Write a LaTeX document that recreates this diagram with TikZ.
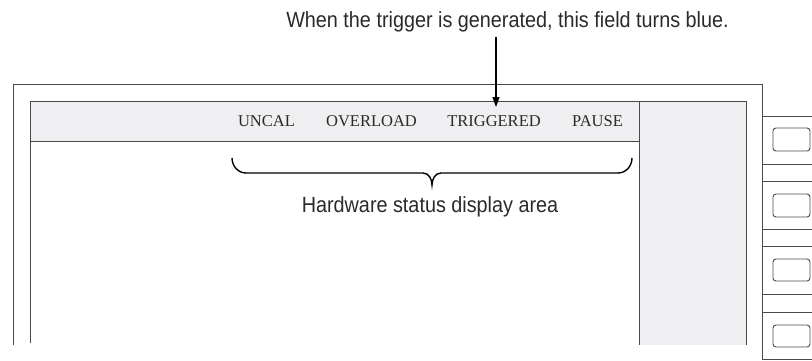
\documentclass[tikz,border=0pt]{standalone}
\usepackage{fontspec}
\usetikzlibrary{arrows.meta}
\newfontfamily\labfont[FakeStretch=0.9]{Liberation Sans}
\newfontfamily\hdrfont{Liberation Serif}
\definecolor{lin}{HTML}{4A4A4A}
\definecolor{panel}{HTML}{EFEFF1}
\definecolor{txt}{HTML}{2A2A2A}
\begin{document}
\begin{tikzpicture}[x=1pt,y=-1pt,
  frame/.style={draw=lin,line width=1pt},
  callout/.style={inner sep=0pt,anchor=base,text=txt,font=\labfont\fontsize{22}{26}\selectfont},
  field/.style={inner sep=0pt,anchor=base,text=txt,font=\hdrfont\fontsize{16.5}{20}\selectfont},
  softkey/.style={draw=lin,line width=0.9pt,rounded corners=3pt}]
\useasboundingbox (0,0) rectangle (812,360);
% panels
\fill[panel] (30,101) rectangle (639,141);
\fill[panel] (639,101) rectangle (746,345);
% outer frame
\draw[frame] (13,345) -- (13,84) -- (762,84) -- (762,360);
% inner frame
\draw[frame] (30,343) -- (30,101) -- (746,101) -- (746,345);
\draw[frame] (30,141) -- (639,141);
\draw[frame] (639,101) -- (639,345);
% right side keys
\foreach \ya/\yb in {116/164,181/229,246/294,312/359}{
  \draw[frame] (762,\ya) -- (812,\ya);
  \draw[frame] (762,\yb) -- (812,\yb);
}
\draw[softkey] (773,128) rectangle (810,151);
\draw[softkey] (773,194) rectangle (810,217);
\draw[softkey] (773,259) rectangle (810,281);
\draw[softkey] (773,325) rectangle (810,347);
% header fields
\node[field] (uncal) at (266.5,126) {UNCAL};
\node[field] (overload) at (371.5,126) {OVERLOAD};
\node[field] (trig) at (494,126) {TRIGGERED};
\node[field] (pause) at (597.5,126) {PAUSE};
% callouts
\node[callout] (top) at (507.5,27) {When the trigger is generated, this field turns blue.};
\node[callout] (hw) at (430,212.7) {Hardware status display area};
\coordinate (tip) at (496,107);
\draw[draw=black,line width=1.1pt,-{Triangle[length=10pt,width=7pt]}] ([yshift=-5pt]top.south -| tip) -- (tip);
% brace
\draw[black,line width=1.4pt] (232,158) to[out=-90,in=180] (246,173) -- (423,173)
  to[out=0,in=90] (432,185) to[out=90,in=180] (441,173) -- (618,173) to[out=0,in=-90] (632,158);
\end{tikzpicture}
\end{document}
